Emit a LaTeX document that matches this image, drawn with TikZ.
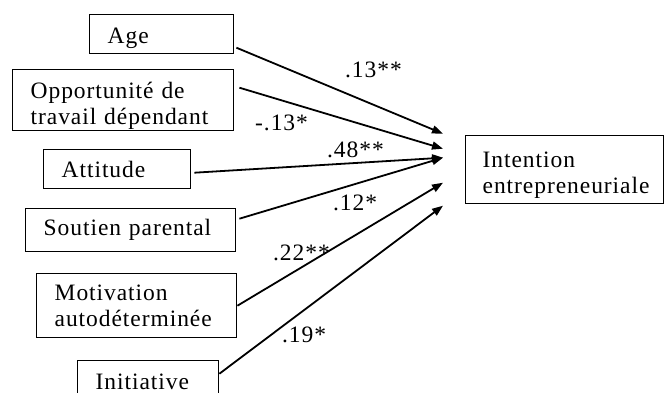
\documentclass[tikz,border=0pt]{standalone}
\usepackage{fontspec}
\setmainfont{Liberation Serif}[LetterSpace=4]
\usetikzlibrary{arrows.meta}

\begin{document}
\begin{tikzpicture}[x=1pt,y=-1pt,
	font=\fontsize{23.5}{26}\selectfont,
	boite/.style={draw,line width=1.4pt,anchor=north west,align=left,inner xsep=18pt,inner ysep=0pt},
	fleche/.style={line width=1.8pt,-{Triangle[length=11pt,width=8pt]}},
	coef/.style={anchor=base west,inner sep=0pt}]
	%\draw[help lines] (0,0) grid[step=50] (664,392);
	\useasboundingbox (0,0) rectangle (664,392);
	% variables explicatives
	\node[boite,text width=108pt,text height=29pt,text depth=10pt] (age) at (89,14) {Age};
	\node[boite,text width=185pt,text height=29pt,text depth=32pt] (opp) at (12,69) {Opportunité~de\\travail~dépendant};
	\node[boite,text width=111pt,text height=28pt,text depth=11pt] (att) at (43,149) {Attitude};
	\node[boite,text width=174pt,text height=27pt,text depth=16pt] (sou) at (25,208) {Soutien~parental};
	\node[boite,text width=164pt,text height=27pt,text depth=37pt] (mot) at (36,273) {Motivation\\autodéterminée};
	\node[boite,text width=105pt,text height=29pt,text depth=10pt] (ini) at (77,360) {Initiative};
	% variable dependante
	\node[boite,inner xsep=17pt,text width=164pt,text height=32pt,text depth=36pt] (int) at (465,135) {Intention\\entrepreneuriale};
	% liens
	\draw[fleche] ([xshift=2pt,yshift=-13.5pt]age.east) -- ([xshift=-22pt,yshift=36pt]int.west);
	\draw[fleche] ([xshift=5pt,yshift=12.5pt]opp.east) -- ([xshift=-22pt,yshift=21pt]int.west);
	\draw[fleche] ([xshift=3pt,yshift=-3.5pt]att.east) -- ([xshift=-22pt,yshift=12pt]int.west);
	\draw[fleche] ([xshift=3pt,yshift=11.5pt]sou.east) -- ([xshift=-22pt,yshift=12pt]int.west);
	\draw[fleche] (mot.east) -- ([xshift=-22pt,yshift=-13pt]int.west);
	\draw[fleche] ([yshift=6.5pt]ini.east) -- ([xshift=-22pt,yshift=-36pt]int.west);
	% coefficients
	\node[coef] (c1) at (345,77) {.13**};
	\node[coef] (c2) at (255,130) {-.13*};
	\node[coef] (c3) at (327,157) {.48**};
	\node[coef] (c4) at (333,210) {.12*};
	\node[coef] (c5) at (273,260) {.22**};
	\node[coef] (c6) at (282,342) {.19*};
\end{tikzpicture}
\end{document}
